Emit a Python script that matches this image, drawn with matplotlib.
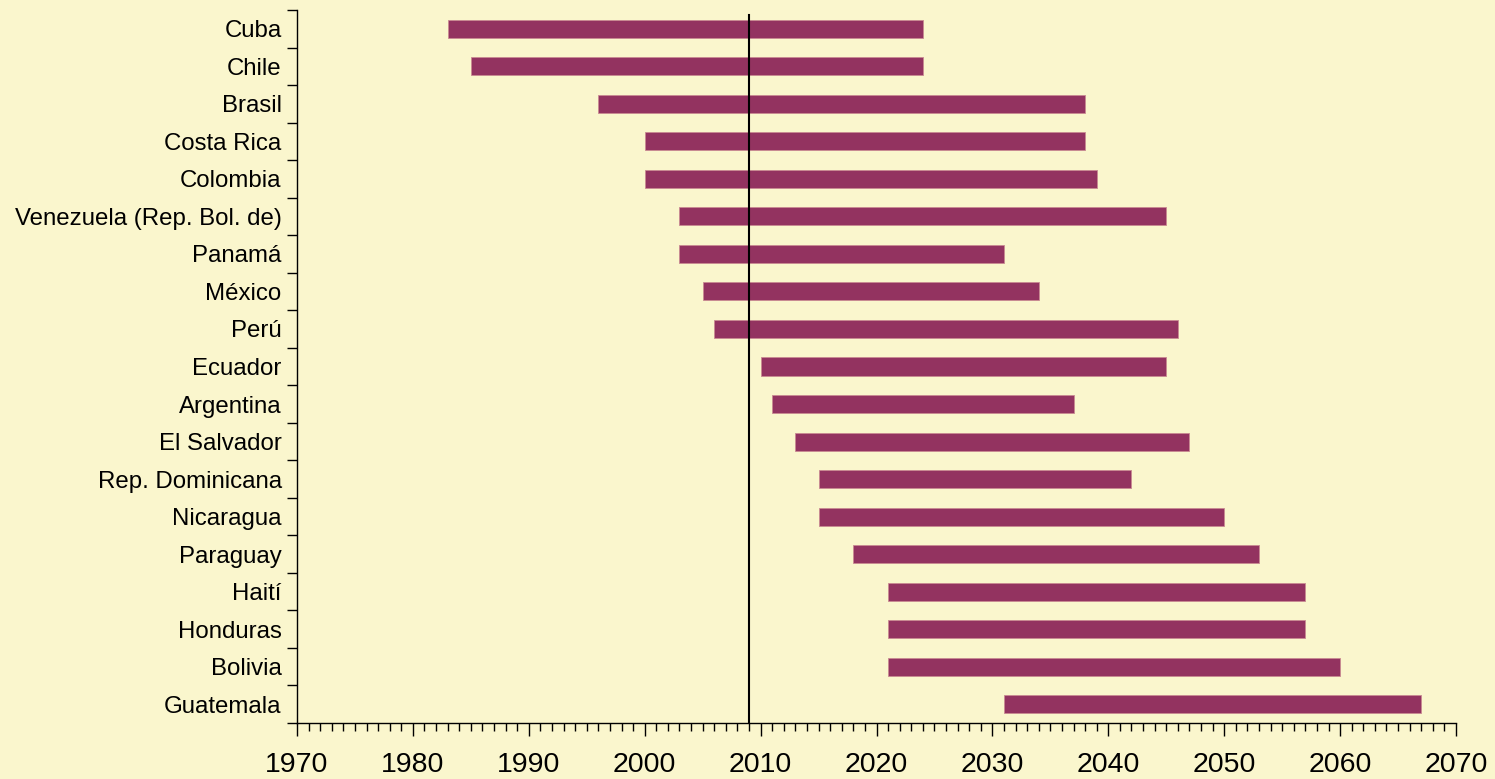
import matplotlib
matplotlib.use("Agg")
import matplotlib.pyplot as plt
from matplotlib.ticker import MultipleLocator
import numpy as np

# countries, top to bottom
countries = ["Cuba", "Chile", "Brasil", "Costa Rica", "Colombia",
             "Venezuela (Rep. Bol. de)", "Panamá", "México", "Perú", "Ecuador",
             "Argentina", "El Salvador", "Rep. Dominicana", "Nicaragua", "Paraguay",
             "Haití", "Honduras", "Bolivia", "Guatemala"]
start_year = [1983, 1985, 1996, 2000, 2000, 2003, 2003, 2005, 2006, 2010,
              2011, 2013, 2015, 2015, 2018, 2021, 2021, 2021, 2031]
end_year = [2024, 2024, 2038, 2038, 2039, 2045, 2031, 2034, 2046, 2045,
            2037, 2047, 2042, 2050, 2053, 2057, 2057, 2060, 2067]
ref_year = 2009

bg = "#FAF6CD"
bar_color = "#933360"

plt.rcParams['font.family'] = ['Liberation Sans', 'DejaVu Sans']

fig = plt.figure(figsize=(14.95, 7.79), dpi=100)
fig.patch.set_facecolor(bg)
ax = fig.add_axes([297 / 1495, 56 / 779, (1456 - 297) / 1495, (723 - 10) / 779])
ax.set_facecolor(bg)

ypos = np.arange(len(countries))
widths = np.array(end_year) - np.array(start_year)
ax.barh(ypos, widths, left=start_year, height=0.48, color=bar_color,
        edgecolor="#c98a92", linewidth=0.6, zorder=2)

# reference line
ax.axvline(ref_year, ymin=0, ymax=(723 - 15) / 713, color="black", linewidth=1.5, zorder=3)

ax.set_xlim(1970, 2070)
ax.set_ylim(len(countries) - 0.5, -0.5)

ax.set_yticks(ypos)
ax.set_yticklabels(countries, fontsize=17.3)
ax.yaxis.set_minor_locator(MultipleLocator(1, offset=0.5))
ax.tick_params(axis="y", which="major", length=0, pad=11)
ax.tick_params(axis="y", which="minor", length=7, width=1, direction="out")

ax.xaxis.set_major_locator(MultipleLocator(10))
ax.xaxis.set_minor_locator(MultipleLocator(1))
ax.tick_params(axis="x", which="major", length=9, width=1, direction="out", labelsize=20.5, pad=12)
ax.tick_params(axis="x", which="minor", length=6, width=1, direction="out")

for side in ["top", "right"]:
    ax.spines[side].set_visible(False)
for side in ["left", "bottom"]:
    ax.spines[side].set_linewidth(1)

fig.savefig("out.png", dpi=100, facecolor=bg)
